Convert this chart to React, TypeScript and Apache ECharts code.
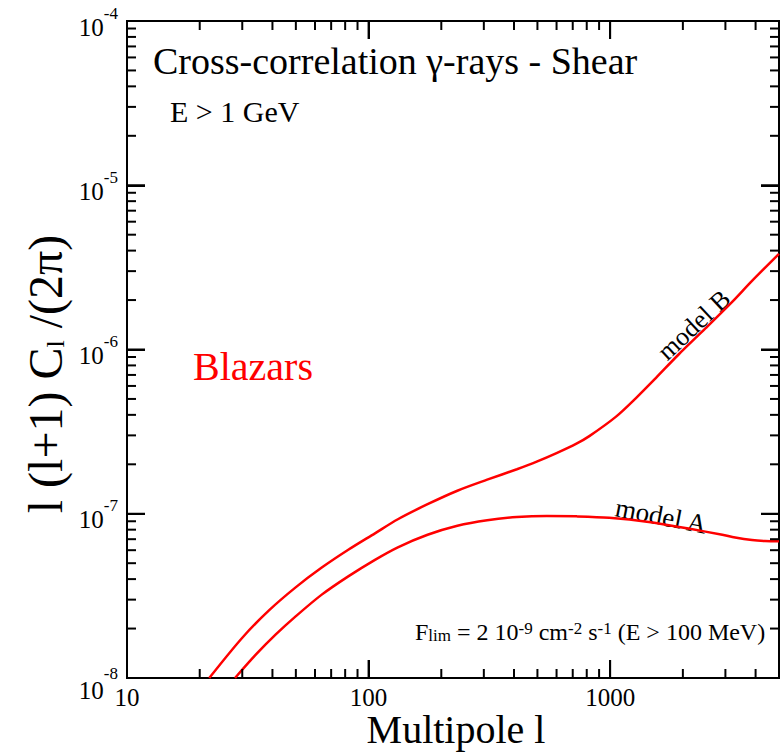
import React, { useEffect, useRef } from "react";
import * as echarts from "echarts";

// ---- data ----
const multipoleB = [21.9, 29.95, 38.7, 49.9, 63.8, 82.4, 106.3, 132.2, 175.5, 233.1, 309.7, 411.1, 496.6, 599.9, 725.4, 820, 1058, 1279, 1545, 1920, 2479, 3200, 3866, 5000];
const modelB = [1.0e-8, 1.753e-8, 2.58e-8, 3.563e-8, 4.685e-8, 6.033e-8, 7.6e-8, 9.26e-8, 1.143e-7, 1.381e-7, 1.612e-7, 1.867e-7, 2.075e-7, 2.339e-7, 2.672e-7, 2.97e-7, 3.903e-7, 5.061e-7, 6.7e-7, 9.322e-7, 1.343e-6, 1.949e-6, 2.616e-6, 3.822e-6];

const multipoleA = [28.0, 34.2, 41.3, 49.9, 63.8, 82.4, 106.3, 132.2, 175.5, 233.1, 309.7, 411.1, 546.1, 725.4, 990.6, 1446, 2111, 2912, 3292, 3866, 4373, 5000];
const modelA = [1.0e-8, 1.391e-8, 1.841e-8, 2.371e-8, 3.207e-8, 4.158e-8, 5.243e-8, 6.249e-8, 7.447e-8, 8.45e-8, 9.13e-8, 9.548e-8, 9.696e-8, 9.641e-8, 9.454e-8, 8.913e-8, 8.12e-8, 7.447e-8, 7.16e-8, 6.91e-8, 6.82e-8, 6.79e-8];

const xMajorTicks = [10, 100, 1000];
const xTickLabels = ["10", "100", "1000"];
const xMinorTicks = [20, 30, 40, 50, 60, 70, 80, 90, 200, 300, 400, 500, 600, 700, 800, 900, 2000, 3000, 4000];

const yMajorTicks = [1e-8, 1e-7, 1e-6, 1e-5, 1e-4];
const yTickExponents = ["-8", "-7", "-6", "-5", "-4"];
const yMantissas = [2, 3, 4, 5, 6, 7, 8, 9];

const X_MIN = 10;
const X_MAX = 5000;
const Y_MIN = 1e-8;
const Y_MAX = 1e-4;

const SERIF = "'Liberation Serif', 'Times New Roman', serif";

function findIndex(list: number[], v: number) {
  for (let i = 0; i < list.length; i++) {
    if (Math.abs(Math.log10(v) - Math.log10(list[i])) < 1e-6) return i;
  }
  return -1;
}

export default function App() {
  const ref = useRef<HTMLDivElement>(null);

  useEffect(() => {
    if (!ref.current) return;
    const chart = echarts.init(ref.current, null, { renderer: "svg" });

    const yMinorTicks: number[] = [];
    yMajorTicks.slice(0, -1).forEach((d) => yMantissas.forEach((m) => yMinorTicks.push(m * d)));

    const black = { color: "#000", width: 2 };

    const curveSeries: any[] = [
      {
        name: "model B",
        type: "line",
        xAxisIndex: 0,
        yAxisIndex: 0,
        data: multipoleB.map((l, i) => [l, modelB[i]]),
        smooth: 0.3,
        showSymbol: false,
        symbol: "none",
        lineStyle: { color: "#ff0000", width: 2.5 },
        itemStyle: { color: "#ff0000" },
      },
      {
        name: "model A",
        type: "line",
        xAxisIndex: 0,
        yAxisIndex: 0,
        data: multipoleA.map((l, i) => [l, modelA[i]]),
        smooth: 0.3,
        showSymbol: false,
        symbol: "none",
        lineStyle: { color: "#ff0000", width: 2.5 },
        itemStyle: { color: "#ff0000" },
      },
    ];

    const xCommon = {
      type: "log",
      logBase: 10,
      min: X_MIN,
      max: X_MAX,
      axisLine: { show: true, lineStyle: black },
      axisTick: { show: true, inside: true, length: 18, lineStyle: black },
      splitLine: { show: false },
    };
    const yCommon = {
      type: "log",
      logBase: 10,
      min: Y_MIN,
      max: Y_MAX,
      axisLine: { show: true, lineStyle: black },
      axisTick: { show: true, inside: true, length: 18, lineStyle: black },
      splitLine: { show: false },
    };

    chart.setOption({
      animation: false,
      grid: {
        left: 127,
        right: -2,
        top: 21,
        bottom: 76,
        show: true,
        borderColor: "#000",
        borderWidth: 2,
      },
      xAxis: [
        {
          ...xCommon,
          position: "bottom",
          axisLabel: {
            color: "#000",
            fontSize: 25,
            fontFamily: SERIF,
            lineHeight: 18,
            margin: 10,
            formatter: (v: number) => {
              const i = findIndex(xMajorTicks, v);
              return i >= 0 ? xTickLabels[i] : "";
            },
          },
        },
        { ...xCommon, position: "top", axisLabel: { show: false } },
      ],
      yAxis: [
        {
          ...yCommon,
          position: "left",
          axisLabel: {
            color: "#000",
            margin: 9,
            formatter: (v: number) => {
              const i = findIndex(yMajorTicks, v);
              if (i < 0) return "";
              return i === 0 ? `{b8|10}{s8|${yTickExponents[i]}}` : `{b|10}{s|${yTickExponents[i]}}`;
            },
            rich: {
              b: { fontSize: 25, fontFamily: SERIF, color: "#000", lineHeight: 20, padding: [12, 0, 0, 0] },
              s: { fontSize: 17, fontFamily: SERIF, color: "#000", lineHeight: 16, padding: [0, 0, 16, 0] },
              b8: { fontSize: 25, fontFamily: SERIF, color: "#000", lineHeight: 20, padding: [24, 0, 0, 0] },
              s8: { fontSize: 17, fontFamily: SERIF, color: "#000", lineHeight: 16, padding: [0, 0, 10, 0] },
            },
          },
        },
        { ...yCommon, position: "right", axisLabel: { show: false } },
      ],
      series: curveSeries,
    });

    // minor + major tick marks as short two-point line series, ends found through the chart's own log scales
    const finder = { xAxisIndex: 0, yAxisIndex: 0 };
    const toPx = (p: number[]) => chart.convertToPixel(finder, p) as number[];
    const fromPx = (p: number[]) => chart.convertFromPixel(finder, p) as number[];
    const bottomPx = toPx([X_MIN, Y_MIN])[1];
    const topPx = toPx([X_MIN, Y_MAX])[1];
    const leftPx = toPx([X_MIN, Y_MIN])[0];
    const rightPx = toPx([X_MAX, Y_MIN])[0];
    const mid = toPx([100, 1e-6]);

    const tickSeries: any[] = [];
    const seg = (a: number[], b: number[]) => ({
      type: "line",
      xAxisIndex: 0,
      yAxisIndex: 0,
      data: [a, b],
      showSymbol: false,
      symbol: "none",
      silent: true,
      lineStyle: { color: "#000", width: 2 },
      itemStyle: { color: "#000" },
    });
    const addX = (vals: number[], len: number) => {
      const yB = fromPx([mid[0], bottomPx - len])[1];
      const yT = fromPx([mid[0], topPx + len])[1];
      vals.forEach((v) => {
        tickSeries.push(seg([v, Y_MIN], [v, yB]));
        tickSeries.push(seg([v, Y_MAX], [v, yT]));
      });
    };
    const addY = (vals: number[], len: number) => {
      const xL = fromPx([leftPx + len, mid[1]])[0];
      const xR = fromPx([rightPx - len, mid[1]])[0];
      vals.forEach((v) => {
        tickSeries.push(seg([X_MIN, v], [xL, v]));
        tickSeries.push(seg([X_MAX, v], [xR, v]));
      });
    };
    addX(xMajorTicks, 18);
    addX(xMinorTicks, 9);
    addY(yMajorTicks, 18);
    addY(yMinorTicks, 9);

    const texts: any[] = [
      {
        type: "text",
        left: 153,
        top: 42,
        style: { text: "Cross-correlation γ-rays - Shear", fontSize: 38, fontFamily: SERIF, fill: "#000" },
      },
      {
        type: "text",
        left: 170,
        top: 96,
        style: { text: "E > 1 GeV", fontSize: 30, fontFamily: SERIF, fill: "#000" },
      },
      {
        type: "text",
        left: 193,
        top: 346,
        style: { text: "Blazars", fontSize: 40, fontFamily: SERIF, fill: "#ff0000" },
      },
      {
        type: "text",
        x: 694,
        y: 325,
        rotation: (43 * Math.PI) / 180,
        style: { text: "model B", fontSize: 26, fontFamily: SERIF, fill: "#000", align: "center", verticalAlign: "middle" },
      },
      {
        type: "text",
        x: 661,
        y: 516,
        rotation: (-11 * Math.PI) / 180,
        style: { text: "model A", fontSize: 27, fontFamily: SERIF, fill: "#000", align: "center", verticalAlign: "middle" },
      },
      {
        type: "text",
        x: 415,
        y: 632,
        style: {
          text: "{a|F}{sub|lim}{a| = 2 10}{sup|-9}{a| cm}{sup|-2}{a| s}{sup|-1}{a| (E > 100 MeV)}",
          align: "left",
          verticalAlign: "middle",
          rich: {
            a: { fontSize: 24, fontFamily: SERIF, fill: "#000", lineHeight: 24 },
            sub: { fontSize: 17, fontFamily: SERIF, fill: "#000", lineHeight: 16, padding: [20, 0, 0, 0], verticalAlign: "bottom" },
            sup: { fontSize: 17, fontFamily: SERIF, fill: "#000", lineHeight: 16, padding: [0, 0, 20, 0], verticalAlign: "top" },
          },
        },
      },
      {
        type: "text",
        x: 45,
        y: 374,
        rotation: Math.PI / 2,
        style: {
          text: "{a|l (l+1) C}{sub|l}{a| /(2π)}",
          align: "center",
          verticalAlign: "middle",
          rich: {
            a: { fontSize: 48, fontFamily: SERIF, fill: "#000", lineHeight: 50 },
            sub: { fontSize: 26, fontFamily: SERIF, fill: "#000", lineHeight: 26, padding: [20, 0, 0, 0] },
          },
        },
      },
      {
        type: "text",
        x: 456,
        y: 729,
        style: { text: "Multipole l", fontSize: 40, fontFamily: SERIF, fill: "#000", align: "center", verticalAlign: "middle", lineHeight: 26 },
      },
    ];

    chart.setOption({ series: [...curveSeries, ...tickSeries], graphic: texts });

    return () => chart.dispose();
  }, []);

  return <div ref={ref} style={{ position: "absolute", left: 0, top: 0, width: 782, height: 754, background: "#fff" }} />;
}
